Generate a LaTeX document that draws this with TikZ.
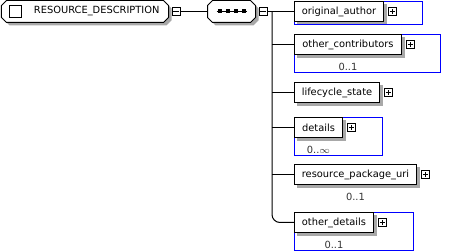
\documentclass[tikz,border=0pt]{standalone}
\usepackage{fontspec}
\setmainfont{DejaVu Sans}
\usetikzlibrary{positioning,calc,backgrounds}

\definecolor{frameblue}{RGB}{0,0,255}
\definecolor{shadowgray}{RGB}{168,168,168}

% outline with cut corners, #2 = offset used for the shadow
\newcommand{\cutoutline}[2]{($(#1.north west)+(5+#2,#2)$) -- ($(#1.north east)+(-5+#2,#2)$)
  -- ($(#1.north east)+(#2,5+#2)$) -- ($(#1.south east)+(#2,-5+#2)$)
  -- ($(#1.south east)+(-5+#2,#2)$) -- ($(#1.south west)+(5+#2,#2)$)
  -- ($(#1.south west)+(#2,-5+#2)$) -- ($(#1.north west)+(#2,5+#2)$) -- cycle}
\newcommand{\boxshadow}[1]{\fill[shadowgray] ($(#1.north west)+(3,3)$) rectangle ($(#1.south east)+(3,3)$);}

\tikzset{every picture/.style={line width=0.75pt}}
\tikzset{
  elembox/.style={draw, fill=white, inner sep=0pt, minimum height=15pt, anchor=north west},
  compbox/.style={inner sep=0pt, minimum height=15.75pt},
  optframe/.style={draw=frameblue, anchor=north west, inner sep=0pt},
  pmbox/.style={draw, fill=white, inner sep=0pt, minimum size=6pt},
  plusbox/.style={pmbox, path picture={
    \draw ([xshift=-2pt]path picture bounding box.center) -- ([xshift=2pt]path picture bounding box.center)
          ([yshift=-2pt]path picture bounding box.center) -- ([yshift=2pt]path picture bounding box.center);}},
  minusbox/.style={pmbox, path picture={
    \draw ([xshift=-2pt]path picture bounding box.center) -- ([xshift=2pt]path picture bounding box.center);}},
  occ/.style={inner sep=0pt, text=black!80}
}

\begin{document}
\begin{tikzpicture}[x=0.75pt,y=0.75pt,yscale=-1,xscale=1,font=\fontsize{7.4pt}{8pt}\selectfont]
\useasboundingbox (0,0) rectangle (458,252);
%% root element with its expand box
\node[compbox, minimum width=124.5pt] (root) at (85,11.5) {};
\draw[fill=white] \cutoutline{root}{0};
\node[draw, fill=white, minimum size=9pt, inner sep=0pt] (rootchk) at (15,11.5) {};
\node[anchor=west] (rootname) at (29,11.5) {RESOURCE\_DESCRIPTION};
\node[minusbox] (rootminus) at (176,11.5) {};
%% sequence compositor
\node[compbox, minimum width=35.25pt] (seq) at (231.5,11.5) {};
\draw[fill=white] \cutoutline{seq}{0};
\draw ([xshift=-11.25pt]seq.center) -- ([xshift=11.25pt]seq.center);
\foreach \dx in {-9,-3,3,9}
  \fill ([xshift=\dx pt]seq.center) +(-1.5pt,-1.5pt) rectangle +(1.5pt,1.5pt);
\node[minusbox] (seqminus) at (263,11.5) {};
\coordinate (trunk) at (272,11.5);
%% blue frames of the optional children
\node[optframe, minimum width=96pt, minimum height=17.25pt] (oaframe) at (294,1) {};
\node[optframe, minimum width=109.5pt, minimum height=28.5pt] (ocframe) at (294,34) {};
\node[optframe, minimum width=66pt, minimum height=28.5pt] (deframe) at (294,117) {};
\node[optframe, minimum width=89.25pt, minimum height=28.5pt] (odframe) at (294,212) {};
%% child elements
\node[elembox, minimum width=66.75pt] (oa) at (294,1) {original\_author};
\node[elembox, minimum width=80.25pt] (oc) at (294,34) {other\_contributors};
\node[elembox, minimum width=63.75pt] (ls) at (294,82) {lifecycle\_state};
\node[elembox, minimum width=36pt] (de) at (294,117) {details};
\node[elembox, minimum width=91.5pt] (rpu) at (294,164) {resource\_package\_uri};
\node[elembox, minimum width=59.25pt] (od) at (294,212) {other\_details};
%% expand boxes
\node[plusbox, right=3pt of oa] (oaplus) {};
\node[plusbox, right=3pt of oc] (ocplus) {};
\node[plusbox, right=3pt of ls] (lsplus) {};
\node[plusbox, right=3pt of de] (deplus) {};
\node[plusbox, right=3pt of rpu] (rpuplus) {};
\node[plusbox, right=3pt of od] (odplus) {};
%% occurrences
\node[occ, below=5.5pt of oc] (ococc) {0..1};
\node[occ, below=5.5pt of de] (deocc) {0..\(\infty\)};
\node[occ, below=5.5pt of rpu] (rpuocc) {0..1};
\node[occ, below=5.5pt of od] (odocc) {0..1};
%% connectors
\draw (rootminus) -- (seq);
\draw (seqminus.east) -- (trunk);
\draw[rounded corners=6pt] (trunk) |- (od.west);
\draw (trunk |- oa.west) -- (oa.west);
\draw (trunk |- oc.west) -- (oc.west);
\draw (trunk |- ls.west) -- (ls.west);
\draw (trunk |- de.west) -- (de.west);
\draw (trunk |- rpu.west) -- (rpu.west);
%% shadows
\begin{scope}[on background layer]
\fill[shadowgray] \cutoutline{root}{3};
\fill[shadowgray] \cutoutline{seq}{3};
\foreach \b in {oa,oc,ls,de,rpu,od} {\boxshadow{\b}}
\end{scope}
\end{tikzpicture}
\end{document}
